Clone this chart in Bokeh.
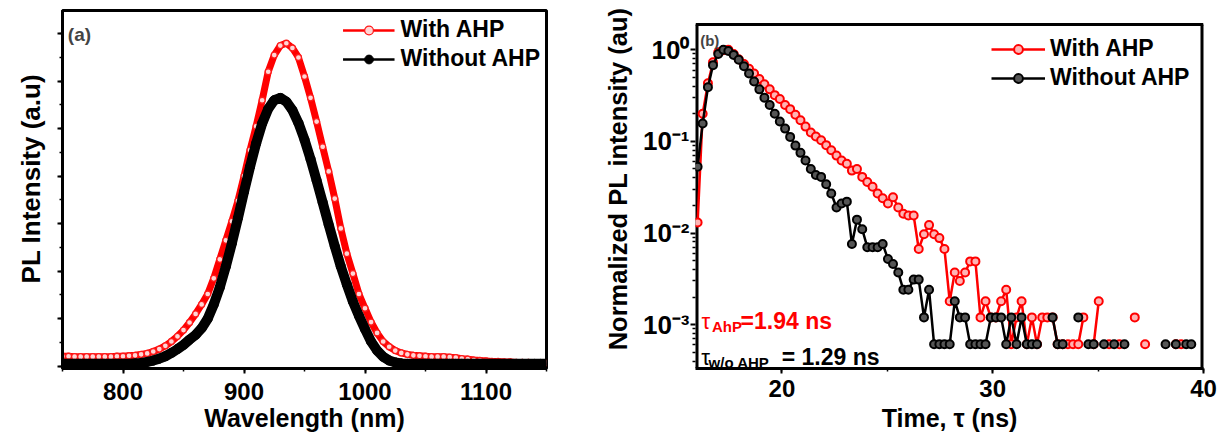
from bokeh.plotting import figure
from bokeh.layouts import row
from bokeh.models import (ColumnDataSource, Range1d, SingleIntervalTicker, FixedTicker,
                          Legend, LegendItem, Label, CustomJSTickFormatter)
from bokeh.embed import file_html
from bokeh.resources import INLINE

nan = float("nan")
FONT = "Liberation Sans"
NB = "\u00a0"

# ---------------- panel (a): steady-state PL ----------------
wavelength_nm = [750, 755, 760, 765, 770, 775, 780, 785, 790, 795,
                 800, 805, 810, 815, 820, 825, 830, 835, 840, 845,
                 850, 855, 860, 865, 870, 875, 880, 885, 890, 895,
                 900, 905, 910, 915, 920, 925, 930, 935, 940, 945,
                 950, 955, 960, 965, 970, 975, 980, 985, 990, 995,
                 1000, 1005, 1010, 1015, 1020, 1025, 1030, 1035, 1040, 1045,
                 1050, 1055, 1060, 1065, 1070, 1075, 1080, 1085, 1090, 1095,
                 1100, 1105, 1110, 1115, 1120, 1125, 1130, 1135, 1140, 1145, 1150]
pl_with_ahp = [0.21, 0.21, 0.20, 0.20, 0.20, 0.20, 0.20, 0.20, 0.20, 0.21,
               0.21, 0.22, 0.23, 0.25, 0.27, 0.31, 0.36, 0.43, 0.52, 0.63,
               0.76, 0.92, 1.10, 1.30, 1.52, 1.85, 2.25, 2.65, 3.05, 3.48,
               4.00, 4.55, 5.05, 5.60, 6.20, 6.55, 6.75, 6.80, 6.70, 6.50,
               6.10, 5.65, 5.15, 4.62, 4.10, 3.53, 2.90, 2.37, 1.95, 1.52,
               1.22, 0.93, 0.70, 0.52, 0.41, 0.33, 0.28, 0.25, 0.23, 0.22,
               0.21, 0.20, 0.20, 0.20, 0.19, 0.18, 0.16, 0.15, 0.13, 0.12,
               0.11, 0.10, 0.10, 0.09, 0.09, 0.08, 0.08, 0.08, 0.07, 0.07, 0.07]
pl_without_ahp = [0.05, 0.05, 0.05, 0.05, 0.05, 0.05, 0.05, 0.05, 0.05, 0.05,
                  0.05, 0.05, 0.06, 0.07, 0.09, 0.12, 0.16, 0.21, 0.28, 0.36,
                  0.45, 0.56, 0.66, 0.80, 1.00, 1.30, 1.66, 2.10, 2.59, 3.12,
                  3.67, 4.20, 4.69, 5.11, 5.42, 5.60, 5.65, 5.57, 5.39, 5.12,
                  4.77, 4.36, 3.91, 3.45, 2.98, 2.53, 2.10, 1.72, 1.36, 1.06,
                  0.78, 0.52, 0.33, 0.20, 0.12, 0.08, 0.06, 0.05, 0.05, 0.05,
                  0.05, 0.05, 0.05, 0.05, 0.05, 0.05, 0.05, 0.05, 0.05, 0.05,
                  0.05, 0.05, 0.05, 0.05, 0.05, 0.05, 0.05, 0.05, 0.05, 0.05, 0.05]

# ---------------- panel (b): TRPL decay ----------------
time_ns = [16.00, 16.24, 16.49, 16.73, 16.98, 17.22, 17.46, 17.71, 17.95, 18.20,
           18.44, 18.68, 18.93, 19.17, 19.42, 19.66, 19.90, 20.15, 20.39, 20.64,
           20.88, 21.12, 21.37, 21.61, 21.86, 22.10, 22.34, 22.59, 22.83, 23.08,
           23.32, 23.56, 23.81, 24.05, 24.30, 24.54, 24.78, 25.03, 25.27, 25.52,
           25.76, 26.00, 26.25, 26.49, 26.74, 26.98, 27.22, 27.47, 27.71, 27.96,
           28.20, 28.44, 28.69, 28.93, 29.18, 29.42, 29.66, 29.91, 30.15, 30.40,
           30.64, 30.88, 31.13, 31.37, 31.62, 31.86, 32.10, 32.35, 32.59, 32.84,
           33.08, 33.32, 33.57, 33.81, 34.06, 34.30, 34.54, 34.79, 35.03, 35.28,
           35.52, 35.76, 36.01, 36.25, 36.50, 36.74, 36.98, 37.23, 37.47, 37.72,
           37.96, 38.20, 38.45, 38.69, 38.94, 39.18, 39.42]
trpl_with_ahp = [0.013, 0.20, 0.43, 0.73, 0.94, 0.99, 1.0, 0.90, 0.79, 0.70,
                 0.62, 0.55, 0.48, 0.42, 0.37, 0.32, 0.29, 0.25, 0.225, 0.195,
                 0.17, 0.145, 0.125, 0.113, 0.103, 0.091, 0.080, 0.070, 0.062, 0.057,
                 0.048, 0.050, 0.041, 0.036, 0.032, 0.027, 0.024, 0.021, 0.0246, 0.019,
                 0.0162, 0.0155, 0.0155, 0.0067, 0.0097, 0.0122, 0.0097, 0.0088, 0.0067, 0.0018,
                 0.0037, 0.0030, 0.0037, 0.0049, 0.0049, 0.0012, 0.0018, 0.0012, 0.0012, 0.0018,
                 0.0024, 0.00061, 0.0012, 0.0018, 0.00061, 0.0012, 0.00061, 0.0012, 0.0012, 0.0012,
                 0.00061, 0.00061, 0.00061, 0.00061, 0.00061, 0.0012, nan, 0.00061, 0.0018, nan,
                 0.00061, nan, 0.00061, nan, nan, 0.0012, nan, 0.00061, nan, nan,
                 nan, nan, nan, 0.00061, 0.00061, nan, nan]
trpl_without_ahp = [0.053, 0.157, 0.39, 0.68, 0.90, 1.0, 0.97, 0.88, 0.78, 0.66,
                    0.55, 0.45, 0.37, 0.30, 0.25, 0.20, 0.165, 0.138, 0.112, 0.090,
                    0.075, 0.062, 0.050, 0.043, 0.041, 0.034, 0.027, 0.019, 0.021, 0.022,
                    0.0076, 0.014, 0.011, 0.0070, 0.0070, 0.0070, 0.0076, 0.0052, 0.0046, 0.0037,
                    0.0024, 0.0024, 0.0031, 0.0031, 0.0012, 0.0024, 0.00061, 0.00061, 0.00061, 0.00061,
                    0.0018, 0.0012, 0.0012, 0.00061, 0.00061, 0.00061, 0.00061, 0.0012, 0.0012, 0.0012,
                    0.00061, 0.0012, 0.00061, 0.0012, 0.00061, 0.00061, 0.00061, nan, nan, 0.0012,
                    0.00061, 0.00061, nan, nan, 0.0012, nan, 0.00061, 0.00061, nan, 0.00061,
                    nan, 0.00061, nan, 0.00061, nan, nan, nan, nan, nan, nan,
                    nan, 0.00061, nan, 0.00061, nan, 0.00061, 0.00061]

series_labels = ["With AHP", "Without AHP"]

for arr in (pl_with_ahp, pl_without_ahp):
    assert len(arr) == len(wavelength_nm), len(arr)
for arr in (trpl_with_ahp, trpl_without_ahp):
    assert len(arr) == len(time_ns), len(arr)


def style_axes(p, label_size="25px", tick_size="24px"):
    p.xgrid.grid_line_color = None
    p.ygrid.grid_line_color = None
    p.outline_line_color = "black"
    p.outline_line_width = 3
    p.outline_line_alpha = 1
    p.background_fill_color = "white"
    p.border_fill_color = "white"
    for ax in (p.xaxis[0], p.yaxis[0]):
        ax.axis_line_width = 3
        ax.axis_line_color = "black"
        ax.major_tick_line_width = 2
        ax.major_tick_in = 0
        ax.major_tick_out = 5
        ax.minor_tick_line_width = 1.5
        ax.minor_tick_in = 0
        ax.minor_tick_out = 3
        ax.major_label_text_font = FONT
        ax.major_label_text_font_style = "bold"
        ax.major_label_text_font_size = tick_size
        ax.major_label_text_color = "black"
        ax.axis_label_text_font = FONT
        ax.axis_label_text_font_style = "bold"
        ax.axis_label_text_font_size = label_size
        ax.axis_label_text_color = "black"


# ---------- left figure ----------
p1 = figure(width=600, height=437, x_range=Range1d(750, 1150), y_range=Range1d(-0.048, 7.489),
            title=None, output_backend="svg", toolbar_location=None,
            min_border_left=62, min_border_right=54, min_border_top=10, min_border_bottom=69)
style_axes(p1)
p1.xaxis.ticker = SingleIntervalTicker(interval=100, num_minor_ticks=2)
p1.yaxis.ticker = SingleIntervalTicker(interval=1, num_minor_ticks=2)
p1.yaxis.formatter = CustomJSTickFormatter(code="return '';")
p1.yaxis.major_label_standoff = 0
p1.yaxis.axis_label_standoff = 12
p1.yaxis.axis_label = NB * 3 + "PL Intensity (a.u)"
p1.yaxis.axis_label_text_font_size = "26px"
p1.xaxis.axis_label = "Wavelength (nm)"
p1.xaxis.major_label_standoff = 9
p1.xaxis.axis_label_standoff = 1

src1 = ColumnDataSource(dict(wl=wavelength_nm, w=pl_with_ahp, wo=pl_without_ahp))
p1.line("wl", "w", source=src1, line_color="#ff0000", line_width=7)
red_thin1 = p1.line("wl", "w", source=src1, line_color="#ff0000", line_width=2.5)
red_sc1 = p1.scatter("wl", "w", source=src1, size=6, marker="circle",
                     line_color="#ff1a1a", line_width=1.3, fill_color="#ffd6d6")
p1.line("wl", "wo", source=src1, line_color="black", line_width=10)
blk_thin1 = p1.line("wl", "wo", source=src1, line_color="black", line_width=2.5)
blk_sc1 = p1.scatter("wl", "wo", source=src1, size=9, marker="circle",
                     line_color="black", fill_color="black")

leg1 = Legend(items=[LegendItem(label=series_labels[0], renderers=[red_thin1, red_sc1]),
                     LegendItem(label=series_labels[1], renderers=[blk_thin1, blk_sc1])],
              location="top_right", label_text_font=FONT, label_text_font_style="bold",
              label_text_font_size="23px", label_text_color="black",
              glyph_width=52, glyph_height=22, label_height=22,
              label_standoff=6, spacing=2, padding=0, margin=6,
              border_line_color=None, background_fill_alpha=0)
p1.add_layout(leg1)
p1.add_layout(Label(x=754.4, y=6.98, text="(a)", text_font=FONT, text_font_style="bold",
                    text_font_size="19px", text_baseline="alphabetic"))

# ---------- right figure ----------
T_LO, T_HI = 15.9, 40.0
V_LO, V_TOP = 3.32e-4, 2.685
V_BOX_TOP = 1.89
p2 = figure(width=623, height=437, x_range=Range1d(T_LO, T_HI), y_range=Range1d(V_LO, V_TOP),
            y_axis_type="log", title=None, output_backend="svg", toolbar_location=None,
            min_border_left=92, min_border_right=20, min_border_top=10, min_border_bottom=69)
style_axes(p2)
p2.outline_line_color = None
p2.yaxis.axis_line_color = None
# frame of panel (b), drawn as plain lines (its top edge lies below the shared frame top)
p2.line(x=[T_LO, T_HI], y=[V_BOX_TOP, V_BOX_TOP], line_color="black", line_width=3)
p2.line(x=[T_LO, T_LO], y=[V_LO, V_BOX_TOP], line_color="black", line_width=6)
p2.line(x=[T_HI, T_HI], y=[V_LO, V_BOX_TOP], line_color="black", line_width=6)

p2.xaxis.ticker = SingleIntervalTicker(interval=10, num_minor_ticks=2)
decades = [1e-3, 1e-2, 1e-1, 1.0]
minors = [m * d for d in [1e-4, 1e-3, 1e-2, 1e-1] for m in range(2, 10)]
p2.yaxis.ticker = FixedTicker(ticks=decades, minor_ticks=minors)
p2.yaxis.formatter = CustomJSTickFormatter(code="""
const sup = {'-':'\u207b','0':'\u2070','1':'\u00b9','2':'\u00b2','3':'\u00b3','4':'\u2074',
             '5':'\u2075','6':'\u2076','7':'\u2077','8':'\u2078','9':'\u2079'};
const e = Math.round(Math.log10(tick));
return '10' + String(e).split('').map(c => sup[c]).join('');
""")
p2.yaxis.major_label_text_font_size = "26px"
p2.yaxis.major_label_standoff = 1
p2.yaxis.axis_label_standoff = 8
p2.yaxis.axis_label = NB * 3 + "Normalized PL intensity (au)"
p2.yaxis.axis_label_text_font_size = "25.5px"
p2.xaxis.axis_label = "Time, \u03c4 (ns)"
p2.xaxis.major_label_standoff = 6
p2.xaxis.axis_label_standoff = 4

src2 = ColumnDataSource(dict(t=time_ns, w=trpl_with_ahp, wo=trpl_without_ahp))
red_l2 = p2.line("t", "w", source=src2, line_color="#ff0000", line_width=2.5)
red_s2 = p2.scatter("t", "w", source=src2, size=8, marker="circle",
                    line_color="#ff0000", line_width=2, fill_color="#ffb3b3")
blk_l2 = p2.line("t", "wo", source=src2, line_color="black", line_width=2.5)
blk_s2 = p2.scatter("t", "wo", source=src2, size=8, marker="circle",
                    line_color="black", line_width=2, fill_color="#555555")

leg2 = Legend(items=[LegendItem(label=series_labels[0], renderers=[red_l2, red_s2]),
                     LegendItem(label=series_labels[1], renderers=[blk_l2, blk_s2])],
              location=(296, 277), label_text_font=FONT, label_text_font_style="bold",
              label_text_font_size="23px", label_text_color="black",
              glyph_width=54, glyph_height=22, label_height=22,
              label_standoff=5, spacing=2, padding=0, margin=0,
              border_line_color=None, background_fill_alpha=0)
p2.add_layout(leg2)
p2.add_layout(Label(x=16.12, y=1.25, text="(b)", text_font=FONT, text_font_style="bold",
                    text_font_size="15px", text_baseline="alphabetic"))

# lifetime annotations
red = "#ff0000"
p2.add_layout(Label(x=16.19, y=1.089e-3, text="\u03c4", text_color=red, text_font=FONT,
                    text_font_size="22px", text_baseline="alphabetic"))
p2.add_layout(Label(x=16.68, y=9.53e-4, text="AhP", text_color=red, text_font=FONT,
                    text_font_style="bold", text_font_size="15px", text_baseline="alphabetic"))
p2.add_layout(Label(x=18.04, y=1.089e-3, text="=1.94 ns", text_color=red, text_font=FONT,
                    text_font_style="bold", text_font_size="23px", text_baseline="alphabetic"))
p2.add_layout(Label(x=16.17, y=4.41e-4, text="\u03c4", text_color="black", text_font=FONT,
                    text_font_size="22px", text_baseline="alphabetic"))
p2.add_layout(Label(x=16.52, y=3.89e-4, text="w/o AHP", text_color="black", text_font=FONT,
                    text_font_style="bold", text_font_size="15px", text_baseline="alphabetic"))
p2.add_layout(Label(x=19.99, y=4.41e-4, text="= 1.29 ns", text_color="black", text_font=FONT,
                    text_font_style="bold", text_font_size="23px", text_baseline="alphabetic"))

layout = row(p1, p2)
open("out.html", "w").write(file_html(layout, INLINE))
